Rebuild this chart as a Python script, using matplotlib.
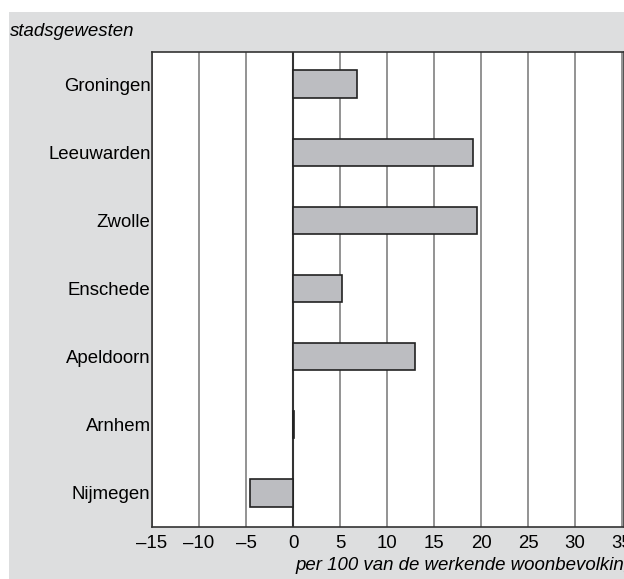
import matplotlib
matplotlib.use("Agg")
import matplotlib.pyplot as plt
from matplotlib.patches import Rectangle

categories = ["Groningen", "Leeuwarden", "Zwolle", "Enschede", "Apeldoorn", "Arnhem", "Nijmegen"]
values = [6.8, 19.1, 19.6, 5.2, 13.0, 0.1, -4.6]
xticks = [-15, -10, -5, 0, 5, 10, 15, 20, 25, 30, 35]
xticklabels = ["\u201315", "\u201310", "\u20135", "0", "5", "10", "15", "20", "25", "30", "35"]

plt.rcParams['font.family'] = ['Liberation Sans', 'DejaVu Sans']
FS = 13.4

W, H = 624, 579
fig = plt.figure(figsize=(W/100, H/100), dpi=100)
fig.patch.set_facecolor('white')
fig.patches.append(Rectangle((9/W, 0), 1, 1 - 12/H, transform=fig.transFigure,
                             facecolor='#dddedf', edgecolor='none', zorder=-10))

left, right, top, bottom = 152, 624, 52, 527
ax = fig.add_axes([left/W, 1 - bottom/H, (right-left)/W, (bottom-top)/H])
ax.set_facecolor('white')

n = len(categories)
ypos = list(range(n))
ax.barh(ypos, values, height=0.4, color='#bcbdc1', edgecolor='#222222', linewidth=1.2, zorder=3)
ax.set_ylim(n - 0.5, -0.47)
ax.set_xlim(-15, 35.2)
for x in xticks:
    ax.axvline(x, color='#333333' if x == 0 else '#808080', linewidth=1.5 if x == 0 else 1.2, zorder=1)

ax.set_yticks(ypos)
ax.set_yticklabels(categories, fontsize=FS)
ax.set_xticks(xticks)
ax.set_xticklabels(xticklabels, fontsize=FS)
ax.tick_params(length=0, pad=1)
ax.tick_params(axis='x', pad=6)
for s in ax.spines.values():
    s.set_color('#333333')
    s.set_linewidth(1.2)

fig.text(10/W, 1 - 32/H, "stadsgewesten", fontsize=FS, style='italic', va='center', ha='left')
fig.text(295/W, 1 - 566/H, "per 100 van de werkende woonbevolking", fontsize=FS, style='italic',
         va='center', ha='left')

fig.savefig("out.png", dpi=100)
